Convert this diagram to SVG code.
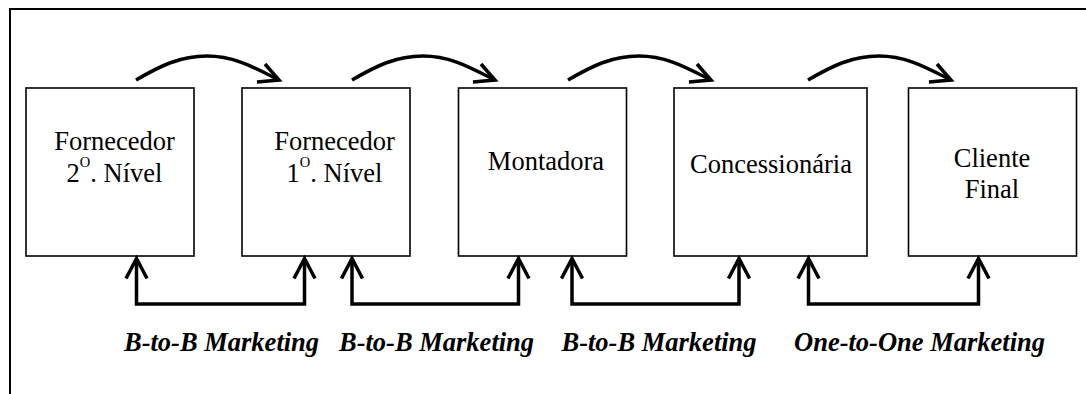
<svg xmlns="http://www.w3.org/2000/svg" xmlns:xlink="http://www.w3.org/1999/xlink" width="1086" height="394" viewBox="0 0 1086 394">
<style>
.frame{fill:none;stroke:#000;stroke-width:2}
.box{fill:#fff;stroke:#000;stroke-width:1.6}
.lbl{font-size:26.5px;fill:#000;text-anchor:middle}
.sup{font-size:14.5px}
.mk{font-size:26.5px;font-weight:bold;font-style:italic;fill:#000}
.conn{fill:none;stroke:#000;stroke-width:3.5;stroke-linejoin:miter;stroke-linecap:butt}
</style>
<defs>
<path id="headR" d="M-14,-16 L0,0 L-22,2" class="conn"/>
<path id="headU" d="M-10.5,20 L0,0 L10.5,20" class="conn"/>
<path id="curve" d="M0,0 C24,-14 44,-24 71,-24 C99,-24 119,-12 143,0" class="conn"/>
</defs>
<rect class="frame" x="10" y="9" width="1100" height="400"/>
<g font-family="'Liberation Serif', 'Times New Roman', 'DejaVu Serif', serif">
<g id="node-fornecedor2">
<rect class="box" x="26" y="88" width="168" height="168"/>
<text class="lbl" x="114.5" y="150">Fornecedor</text>
<text class="lbl" x="114.5" y="182">2<tspan class="sup" dy="-15">O</tspan><tspan dy="15">. Nível</tspan></text>
</g>
<g id="node-fornecedor1">
<rect class="box" x="242" y="88" width="168" height="168"/>
<text class="lbl" x="334.5" y="150">Fornecedor</text>
<text class="lbl" x="334.5" y="182">1<tspan class="sup" dy="-15">O</tspan><tspan dy="15">. Nível</tspan></text>
</g>
<g id="node-montadora">
<rect class="box" x="458.5" y="88" width="168" height="168"/>
<text class="lbl" x="546" y="170">Montadora</text>
</g>
<g id="node-concessionaria">
<rect class="box" x="674" y="88" width="193" height="168"/>
<text class="lbl" x="771" y="173">Concessionária</text>
</g>
<g id="node-cliente">
<rect class="box" x="908.5" y="88" width="168" height="168"/>
<text class="lbl" x="992" y="167">Cliente</text>
<text class="lbl" x="992" y="198">Final</text>
</g>
<text class="mk" x="124" y="351">B-to-B Marketing</text>
<text class="mk" x="339" y="351">B-to-B Marketing</text>
<text class="mk" x="561.5" y="351">B-to-B Marketing</text>
<text class="mk" x="794" y="351">One-to-One Marketing</text>
</g>
<g id="connectors">
<use xlink:href="#curve" x="136" y="80"/>
<use xlink:href="#headR" x="279" y="80"/>
<use xlink:href="#curve" x="352" y="80"/>
<use xlink:href="#headR" x="495" y="80"/>
<use xlink:href="#curve" x="568" y="80"/>
<use xlink:href="#headR" x="711" y="80"/>
<use xlink:href="#curve" x="808" y="80"/>
<use xlink:href="#headR" x="951" y="80"/>
<path class="conn" d="M136.5,259 V304 H304.5 V259"/>
<use xlink:href="#headU" x="136.5" y="258.5"/>
<use xlink:href="#headU" x="304.5" y="258.5"/>
<path class="conn" d="M352,259 V304 H518.5 V259"/>
<use xlink:href="#headU" x="352" y="258.5"/>
<use xlink:href="#headU" x="518.5" y="258.5"/>
<path class="conn" d="M572,259 V304 H739 V259"/>
<use xlink:href="#headU" x="572" y="258.5"/>
<use xlink:href="#headU" x="739" y="258.5"/>
<path class="conn" d="M808.5,259 V304 H978.5 V259"/>
<use xlink:href="#headU" x="808.5" y="258.5"/>
<use xlink:href="#headU" x="978.5" y="258.5"/>
</g>
</svg>
